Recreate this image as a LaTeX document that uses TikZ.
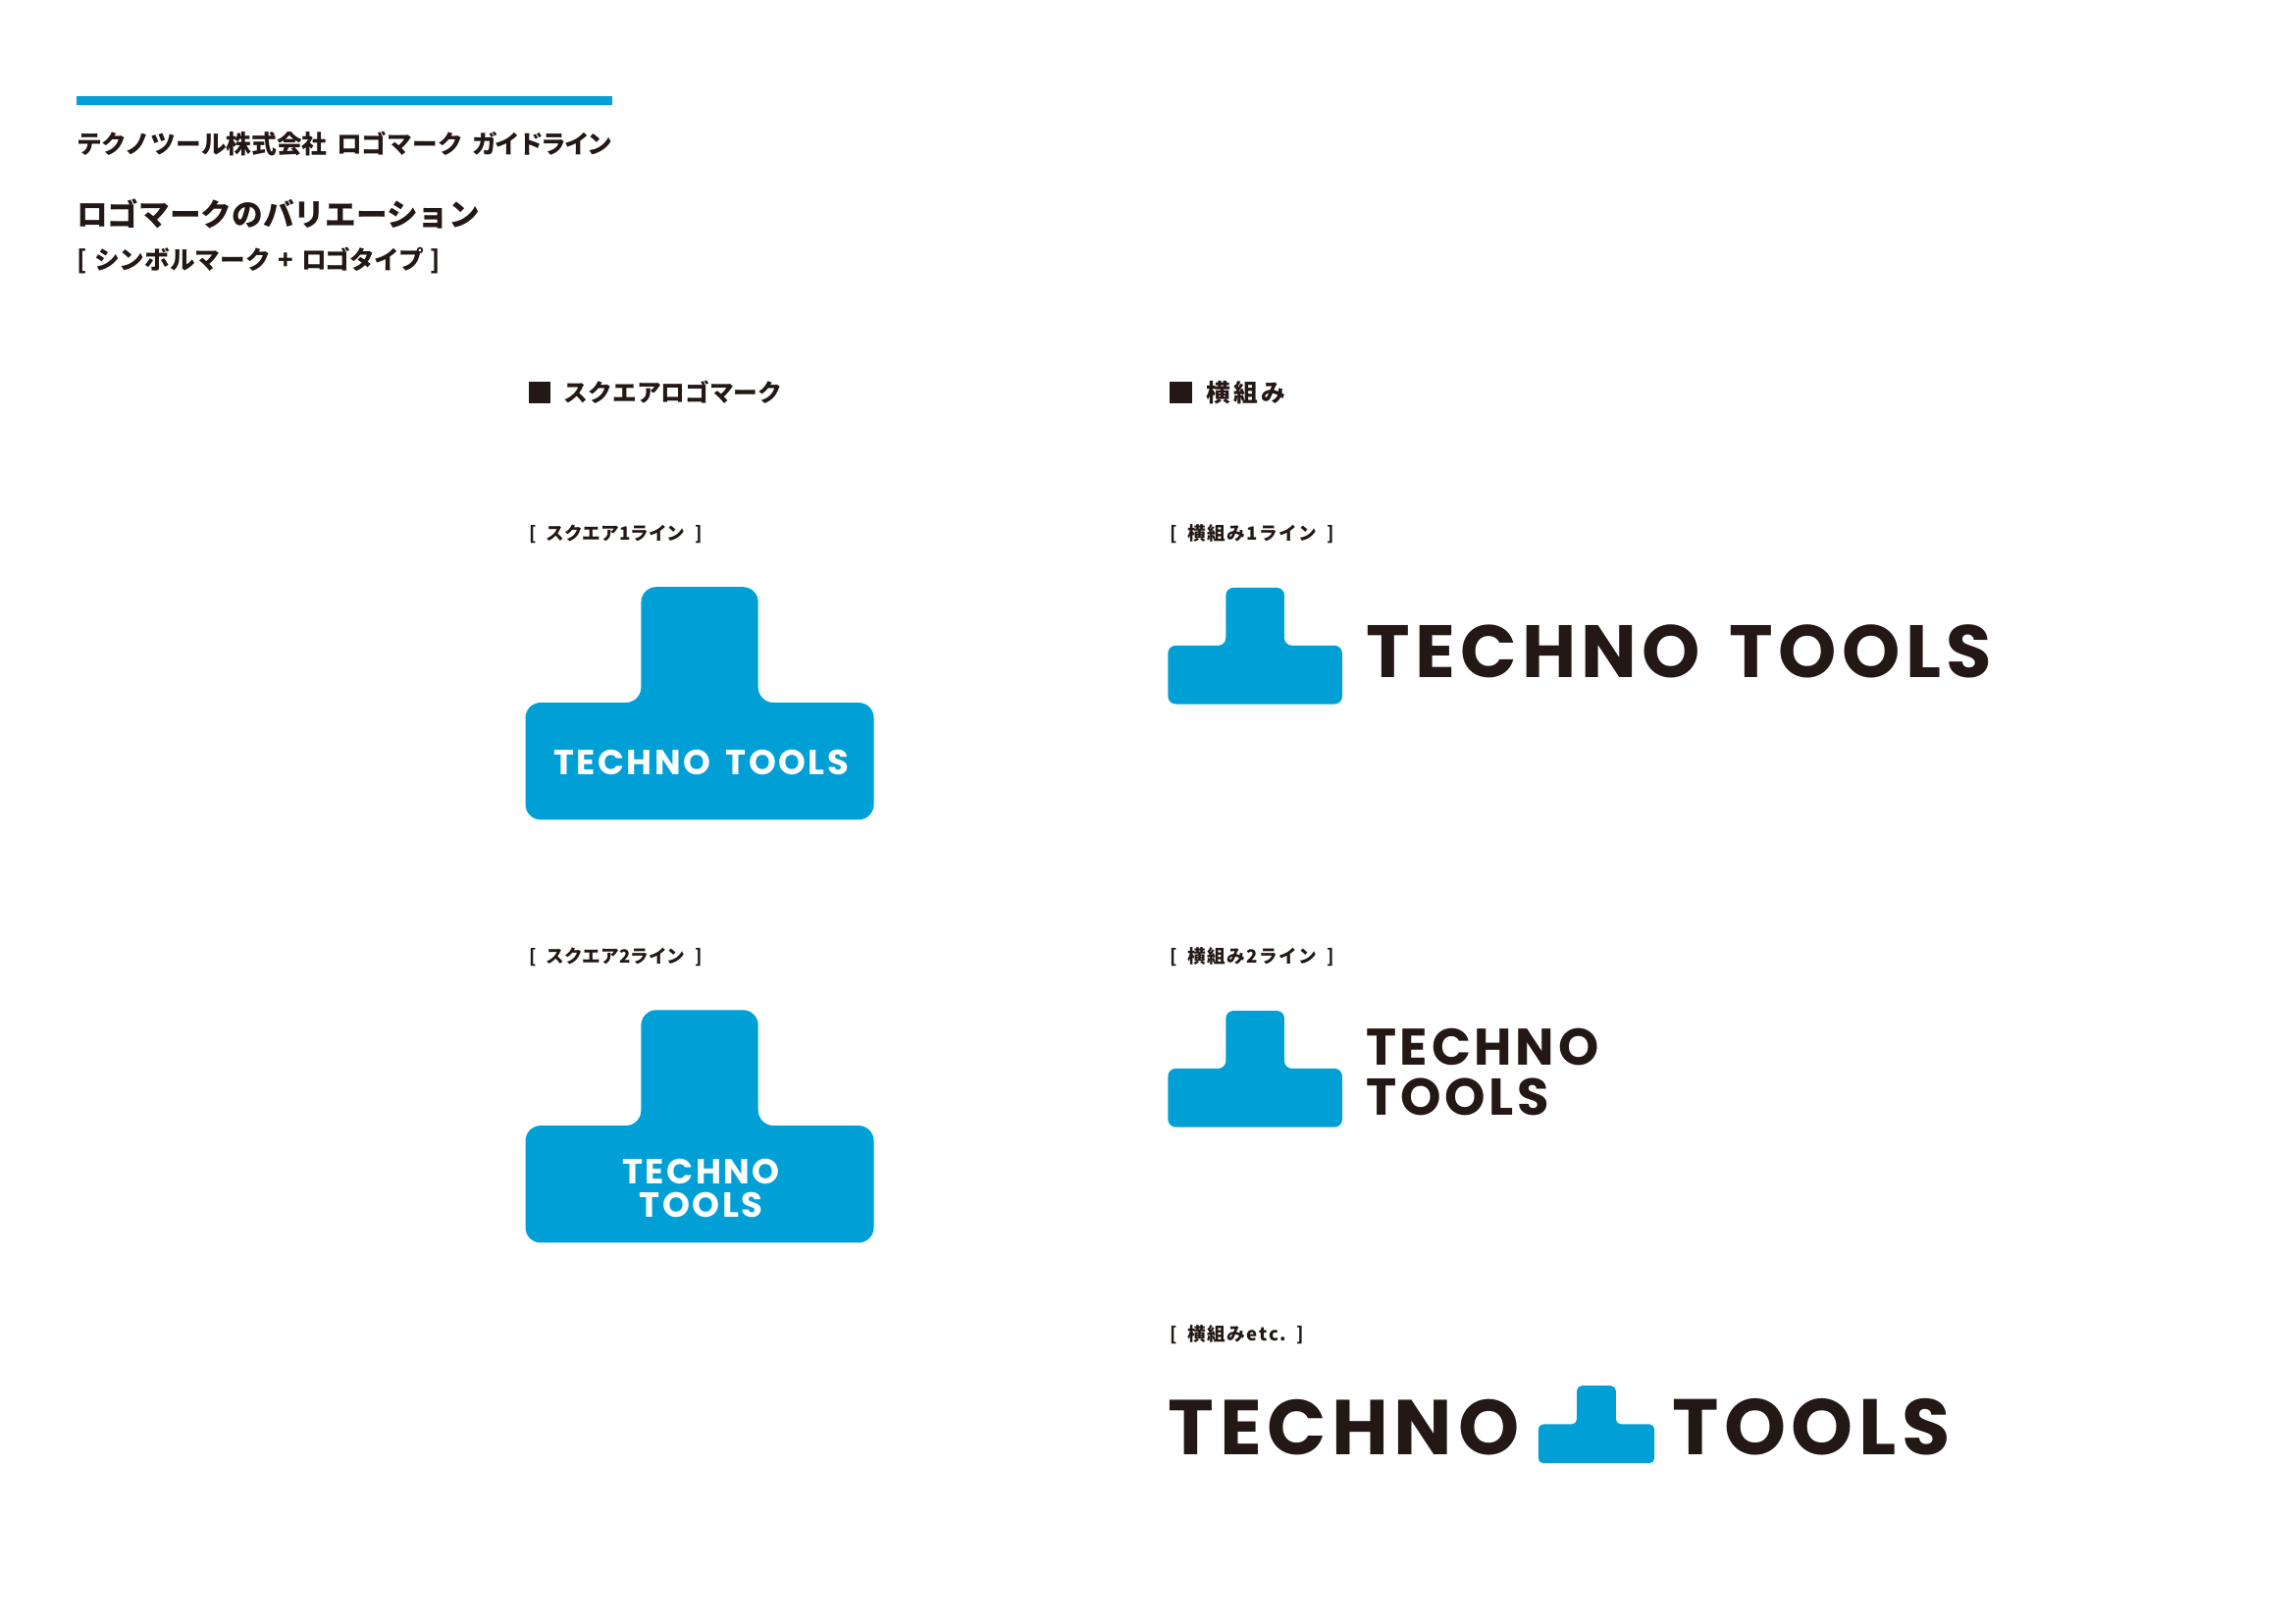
\documentclass[tikz,border=0pt]{standalone}
\usepackage{fontspec}
\setmainfont{Liberation Sans}
\newfontfamily\jpfont{Noto Sans CJK JP}
\newfontfamily\wordfont{Poppins}[LetterSpace=7]
\usepackage{tikz}
\usetikzlibrary{positioning}
\definecolor{logoblue}{HTML}{00A0D6}
\definecolor{inkblack}{HTML}{231815}
\newcommand{\jpsize}[1]{\fontsize{#1}{#1}\selectfont\jpfont\bfseries}
\newcommand{\wordsize}[1]{\fontsize{#1}{#1}\selectfont\wordfont\bfseries}
\newcommand{\tagtext}[1]{[\hspace{.55em}#1\hspace{.55em}]}
% T shaped mark, origin at the top left of its base
\newcommand{\tmark}[3]{%
	\begin{scope}[shift={(#1,#2)},scale=#3]
		\fill[logoblue, rounded corners=#3*5.6pt]
			(0,0) -- (79,0) -- (79,-79) -- (159,-79) -- (159,0)
			-- (238,0) -- (238,80) -- (0,80) -- cycle;
	\end{scope}}

\begin{document}
\begin{tikzpicture}[
x=0.537pt, y=-0.537pt,
every node/.style = {inner sep=0pt, text=inkblack},
     head/.style = {anchor=west, font=\jpsize{9.25}},
    title/.style = {anchor=west, font=\jpsize{11.4}},
  section/.style = {anchor=west, font=\jpsize{8.9}},
 bulletsq/.style = {anchor=west, fill=inkblack, minimum size=8pt},
     tag/.style = {anchor=west, font=\jpsize{6.7}},
    word/.style = {anchor=base west, font=\wordsize{#1}},
 wordwhite/.style = {anchor=base, text=white, font=\wordsize{#1}}
                    ]
\useasboundingbox (0,0) rectangle (1568,1108.8);

\fill[logoblue] (52,66) rectangle (418,72);
\node (guide) [head] at (52,98) {テクノツール株式会社\hspace{.38em}ロゴマーク\hspace{.38em}{\addfontfeature{LetterSpace=-9}ガイドライン}};
\node (vari) [title] at (52,146) {ロゴマークのバリエーション};
\node (subvari) [head] at (52,178) {[\hspace{.3em}シンボルマーク\hspace{.3em}+\hspace{.3em}{\addfontfeature{LetterSpace=-3}ロゴタイプ}\hspace{.25em}]};

\node (sqbullet) [bulletsq] at (361,268) {};
\node (sqhead) [section] at (385,268) {スクエアロゴマーク};
\node (hzbullet) [bulletsq] at (799,268) {};
\node (hzhead) [section] at (824,268) {\addfontfeature{LetterSpace=12}横組み};

\node (sqone) [tag] at (361,365) {\tagtext{スクエア1ライン}};
\node (sqtwo) [tag] at (361,654) {\tagtext{スクエア2ライン}};
\node (hzone) [tag] at (799,365) {\tagtext{\addfontfeature{LetterSpace=8}横組み1ライン}};
\node (hztwo) [tag] at (799,654) {\tagtext{\addfontfeature{LetterSpace=8}横組み2ライン}};
\node (hzetc) [tag] at (799,912) {\tagtext{\addfontfeature{LetterSpace=9}横組みetc.}};

\tmark{359}{480}{1}
\tmark{359}{769}{1}
\tmark{798}{441}{0.5}
\tmark{798}{730}{0.5}
\tmark{1051}{973}{0.3333}

\node (sqonew) [wordwhite=12.75] at (479,529.5) {TECHNO\hspace{.16em} TOOLS};
\node (sqtwoa) [wordwhite=12.8] at (479,808.5) {TECHNO};
\node (sqtwob) [wordwhite=12.8] at (479,831.5) {TOOLS};
\node (hzonew) [word=27.2] at (933,463) {TECHNO\hspace{.11em} TOOLS};
\node (hztwoa) [word=18.9] at (933,728) {TECHNO};
\node (hztwob) [word=19] at (933,762) {TOOLS};
\node (etca) [word=28.5] at (798,994) {TECHNO};
\node (etcb) [word=28.9] at (1142,994) {TOOLS};
\end{tikzpicture}
\end{document}
